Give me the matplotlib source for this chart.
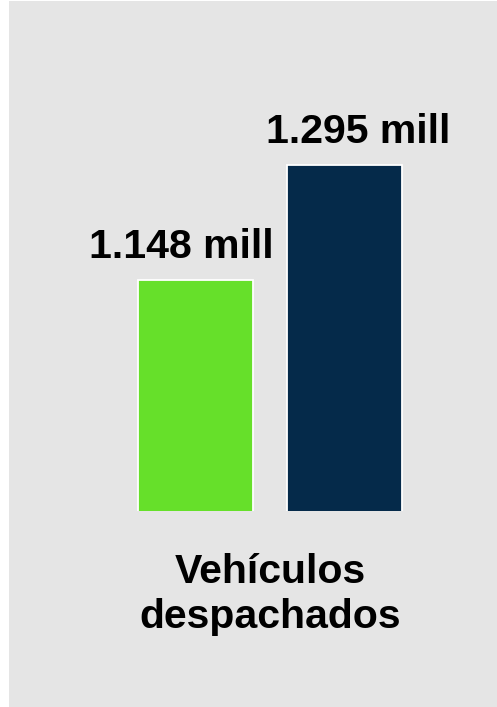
import matplotlib.pyplot as plt
from matplotlib.patches import Rectangle

plt.rcParams['font.family'] = ['Liberation Sans', 'DejaVu Sans']

# data
category = 'Vehículos\ndespachados'
values = [1.148, 1.295]
labels = ['1.148 mill', '1.295 mill']
colors = ['#66e02a', '#052a4a']
label_dx = [-10.5, 10]  # label offsets in points

fig = plt.figure(figsize=(4.97, 7.07), dpi=100)
fig.patch.set_facecolor('white')

# gray panel (leaves a thin white strip on the left)
W, H = 497, 707
fig.patches.append(Rectangle((9 / W, 0), 1 - 9 / W, 1 - 1 / H,
                             transform=fig.transFigure, facecolor='#e5e5e5',
                             edgecolor='none', zorder=-10))

ax = fig.add_axes([9 / W, 1 - 511 / H, 488 / W, 510 / H])
ax.set_facecolor('none')

xs = [0, 1]
ax.bar(xs, values, width=0.775, color=colors, edgecolor='white', linewidth=1.3)

ax.set_xlim(-1.2517, 2.0235)
ax.set_ylim(0.8527, 1.5046)

for x, v, lab, dx in zip(xs, values, labels, label_dx):
    ax.annotate(lab, xy=(x, v), xytext=(dx, 16), textcoords='offset points',
                ha='center', va='baseline', fontsize=29.5, fontweight='bold',
                color='black')

ax.set_xticks([0.5])
ax.set_xticklabels([category], fontsize=29.5, fontweight='bold', linespacing=1.24)
ax.tick_params(axis='x', length=0, pad=30)
ax.set_yticks([])
for s in ax.spines.values():
    s.set_visible(False)

fig.savefig('out.png', dpi=100)
